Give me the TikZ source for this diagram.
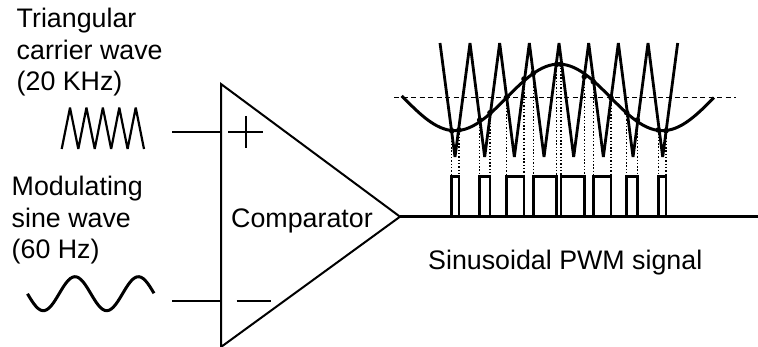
\documentclass[tikz,border=0pt]{standalone}
\usepackage{fontspec}
\setmainfont{Liberation Sans}
\tikzset{
  pwm wire/.style={line width=2pt},
  pwm carrier/.style={line width=2.8pt,line join=bevel},
  pwm sine/.style={line width=3pt},
  pwm pulse/.style={line width=2.5pt},
  pwm guide/.style={line width=1.2pt,dash pattern=on 5pt off 3.5pt},
  pwm drop/.style={line width=1.5pt,dash pattern=on 1.4pt off 1.9pt},
  pwm label/.style={inner sep=0pt,font=\fontsize{26.8}{31.5}\selectfont,align=left}
}
\begin{document}
\begin{tikzpicture}[x=1pt,y=-1pt]
  \useasboundingbox (0,0) rectangle (758,347);
  % labels
  \node[pwm label,anchor=base west] (carrierlabel) at (16.5,91) {Triangular\\carrier wave\\(20 KHz)};
  \node[pwm label,anchor=base west] (sinelabel) at (11.5,259) {Modulating\\sine wave\\(60 Hz)};
  \node[pwm label,anchor=base west] (comparator) at (231,228) {Comparator};
  \node[pwm label,anchor=base west] (pwmlabel) at (428,270) {Sinusoidal PWM signal};
  % comparator
  \coordinate (top) at (221,84);
  \coordinate (bottom) at (221,347);
  \coordinate (apex) at (400,216.7);
  \coordinate (plusin) at (172,132);
  \coordinate (plusend) at (221,132);
  \coordinate (minusin) at (172,301);
  \coordinate (minusend) at (221,301);
  \coordinate (outend) at (758,216.7);
  \draw[pwm wire] (top)--(apex)--(bottom)--cycle;
  \draw[pwm wire] (plusin)--(plusend);
  \draw[pwm wire] (minusin)--(minusend);
  \draw[pwm wire] (228,132)--(262.5,132);
  \draw[pwm wire] (245.5,116)--(245.5,148);
  \draw[pwm wire] (236.5,301)--(270.5,301);
  % input waves
  \draw[line width=2.2pt,line join=bevel] (61.7,149)
    \foreach \k in {0,...,4}{--({70+16.43*\k},107.7)--({78.3+16.43*\k},149)};
  \draw[pwm sine,domain=27.5:154,samples=60] plot (\x,{293.7-17*sin((\x-43.3)*5.678-90)});
  % output
  \draw[pwm guide] (394,97.7)--(736,97.7);
  \draw[pwm carrier] (440,43)
    \foreach \k in {0,...,7}{--({455+29.67*\k},157)--({470+29.67*\k},43)};
  \draw[pwm sine,domain=401.7:714,samples=90] plot (\x,{97.4-33.3*cos((\x-558.7)*1.7366)});
  \draw[line width=2.6pt] (apex)--(outend);
  \foreach \a/\ya/\b/\yb in {451.7/130.7/459/130,479.7/120/490/112.7,506.3/97.7/524/79,533.3/73.3/556.7/64.3,
      561/64.3/584.3/76.7,593.3/81.7/611/97.7,626.7/112.7/637.3/120,658.3/130/666/130.7}{
    \draw[pwm drop] (\a,\ya)--(\a,176.7);
    \draw[pwm drop] (\b,\yb)--(\b,176.7);
    \fill (\a,\ya) circle (2.8pt);
    \fill (\b,\yb) circle (2.8pt);
    \draw[pwm pulse] (\a,216.7)--(\a,176.7)--(\b,176.7)--(\b,216.7);
  }
\end{tikzpicture}
\end{document}
